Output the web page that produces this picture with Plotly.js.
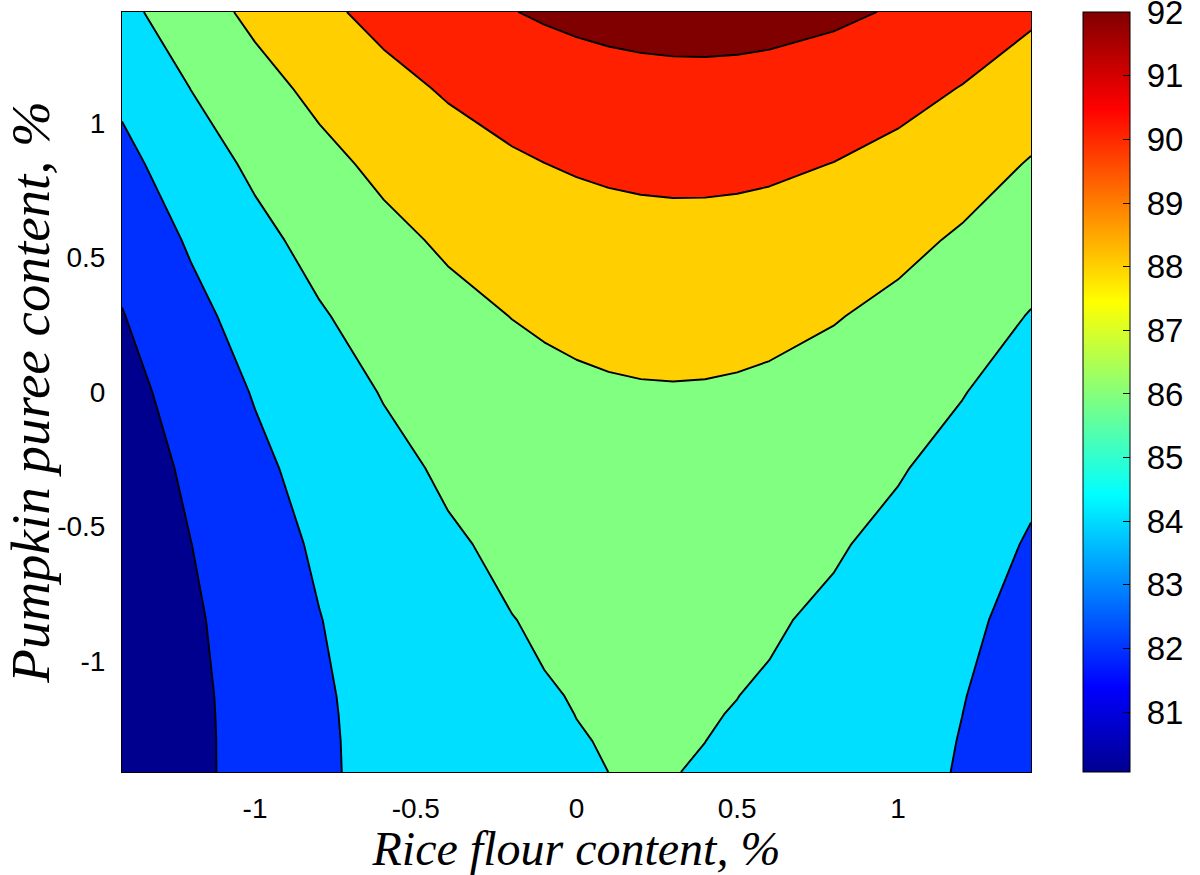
<!DOCTYPE html>
<html>
<head>
<meta charset="utf-8">
<script src="https://cdn.plot.ly/plotly-3.0.1.min.js"></script>
<style>html,body{margin:0;padding:0;background:#fff;}#chart{width:1200px;height:875px;}</style>
</head>
<body>
<div id="chart"></div>
<script>
// Grid coordinates (coded factor levels)
const riceFlour = [-1.414, -1.2, -1.0, -0.8, -0.6, -0.4, -0.2, -0.1, 0, 0.1, 0.2, 0.3, 0.4, 0.5, 0.6, 0.8, 1.0, 1.2, 1.414];
const pumpkinPuree = [-1.414, -1.3, -1.2, -1.131, -0.849, -0.566, -0.283, 0, 0.283, 0.566, 0.849, 1.131, 1.414];

const rowYm1414 = [80.066, 81.529, 82.711, 83.713, 84.536, 85.179, 85.642, 85.807, 85.926, 86.001, 86.030, 86.015, 85.955, 85.850, 85.700, 85.265, 84.651, 83.857, 82.809];
const rowYm1300 = [80.059, 81.529, 82.717, 83.725, 84.553, 85.202, 85.672, 85.839, 85.961, 86.039, 86.071, 86.059, 86.002, 85.900, 85.753, 85.324, 84.716, 83.928, 82.886];
const rowYm1200 = [80.069, 81.544, 82.737, 83.750, 84.584, 85.238, 85.713, 85.883, 86.008, 86.088, 86.123, 86.113, 86.059, 85.959, 85.815, 85.391, 84.788, 84.005, 82.969];
const rowYm1131 = [80.084, 81.563, 82.760, 83.777, 84.614, 85.272, 85.750, 85.921, 86.048, 86.130, 86.167, 86.159, 86.106, 86.009, 85.866, 85.446, 84.847, 84.068, 83.035];
const rowYm0849 = [80.218, 81.713, 82.924, 83.955, 84.807, 85.480, 85.973, 86.152, 86.286, 86.375, 86.419, 86.419, 86.373, 86.283, 86.148, 85.743, 85.158, 84.394, 83.377];
const rowYm0566 = [80.468, 81.979, 83.205, 84.251, 85.118, 85.805, 86.313, 86.499, 86.641, 86.737, 86.789, 86.796, 86.758, 86.675, 86.547, 86.157, 85.587, 84.837, 83.836];
const rowYm0283 = [80.836, 82.362, 83.603, 84.664, 85.546, 86.248, 86.770, 86.964, 87.112, 87.216, 87.276, 87.290, 87.259, 87.183, 87.063, 86.687, 86.132, 85.397, 84.412];
const rowY0000  = [81.320, 82.862, 84.118, 85.193, 86.090, 86.806, 87.343, 87.544, 87.701, 87.812, 87.878, 87.900, 87.877, 87.808, 87.695, 87.334, 86.794, 86.074, 85.104];
const rowYp0283 = [81.921, 83.479, 84.749, 85.839, 86.750, 87.482, 88.033, 88.242, 88.406, 88.524, 88.598, 88.627, 88.611, 88.550, 88.444, 88.098, 87.572, 86.867, 85.913];
const rowYp0566 = [82.638, 84.212, 85.497, 86.602, 87.527, 88.274, 88.840, 89.056, 89.227, 89.353, 89.434, 89.470, 89.462, 89.408, 89.310, 88.978, 88.467, 87.776, 86.838];
const rowYp0849 = [83.472, 85.061, 86.361, 87.481, 88.421, 89.182, 89.763, 89.987, 90.165, 90.298, 90.387, 90.431, 90.429, 90.383, 90.292, 89.975, 89.479, 88.803, 87.881];
const rowYp1131 = [84.418, 86.024, 87.338, 88.473, 89.428, 90.203, 90.799, 91.030, 91.215, 91.356, 91.452, 91.503, 91.509, 91.470, 91.387, 91.085, 90.603, 89.942, 89.035];
const rowYp1414 = [85.485, 87.106, 88.435, 89.584, 90.554, 91.345, 91.955, 92.193, 92.386, 92.534, 92.638, 92.696, 92.710, 92.678, 92.602, 92.314, 91.847, 91.201, 90.310];

// Contour levels and labels
const levelStart = 82, levelEnd = 92, levelStep = 2;
const xTickVals = [-1, -0.5, 0, 0.5, 1];
const xTickText = ['-1', '-0.5', '0', '0.5', '1'];
const yTickVals = [-1, -0.5, 0, 0.5, 1];
const yTickText = ['-1', '-0.5', '0', '0.5', '1'];
const cbTickVals = [81, 82, 83, 84, 85, 86, 87, 88, 89, 90, 91, 92];
const cbTickText = ['81', '82', '83', '84', '85', '86', '87', '88', '89', '90', '91', '92'];
const cbTop = 92;

// Band fill colours (MATLAB jet entries for each filled level)
const bandColors = ['rgb(0,0,143)', 'rgb(0,48,255)', 'rgb(0,223,255)', 'rgb(128,255,128)', 'rgb(255,207,0)', 'rgb(255,32,0)', 'rgb(128,0,0)'];

const zGrid = [rowYm1414, rowYm1300, rowYm1200, rowYm1131, rowYm0849, rowYm0566, rowYm0283, rowY0000, rowYp0283, rowYp0566, rowYp0849, rowYp1131, rowYp1414];

// Step colourscale so each band gets exactly its colour
const n = bandColors.length - 1;
const bandScale = [];
bandColors.forEach((c, k) => {
  const lo = Math.max(0, (k - 0.5) / n), hi = Math.min(1, (k + 0.5) / n);
  bandScale.push([lo, c]);
  bandScale.push([hi, c]);
});

const jet = [
  [0, 'rgb(0,0,143)'],
  [7/63, 'rgb(0,0,255)'],
  [23/63, 'rgb(0,255,255)'],
  [39/63, 'rgb(255,255,0)'],
  [55/63, 'rgb(255,0,0)'],
  [1, 'rgb(128,0,0)']
];

let zMin = Infinity;
zGrid.forEach(r => r.forEach(v => { if (v < zMin) zMin = v; }));

const tickFont = {family: 'Liberation Sans, Arial, sans-serif', size: 28, color: '#000'};
const cbFont = {family: 'Liberation Sans, Arial, sans-serif', size: 33, color: '#000'};
const xTitleFont = {family: 'Liberation Serif, Times New Roman, serif', size: 48, color: '#000', style: 'italic'};
const yTitleFont = {family: 'Liberation Serif, Times New Roman, serif', size: 55, color: '#000', style: 'italic'};

const traces = [
  {
    type: 'heatmap',
    x: riceFlour, y: pumpkinPuree, z: zGrid,
    colorscale: jet, zmin: zMin, zmax: cbTop + 0.003,
    hoverinfo: 'skip',
    showscale: true,
    colorbar: {
      x: 1.0572, xanchor: 'left', xpad: 0,
      y: 0.5, yanchor: 'middle', ypad: 0,
      len: 1, lenmode: 'fraction',
      thickness: 47, thicknessmode: 'pixels',
      outlinewidth: 1, outlinecolor: '#000',
      tickmode: 'array', tickvals: cbTickVals,
      ticktext: cbTickText.map(t => '\u00a0' + t),
      ticks: 'inside', ticklen: 7, tickcolor: '#000', tickwidth: 1,
      ticklabeloverflow: 'allow',
      tickfont: cbFont
    }
  },
  {
    type: 'contour',
    x: riceFlour, y: pumpkinPuree, z: zGrid,
    autocontour: false,
    contours: {start: levelStart, end: levelEnd, size: levelStep, coloring: 'fill', showlines: true},
    colorscale: bandScale,
    showscale: false,
    line: {color: '#000', width: 1.9, smoothing: 0},
    hoverinfo: 'skip'
  }
];

const layout = {
  width: 1200, height: 875,
  margin: {l: 122, r: 169, t: 12, b: 103, autoexpand: false},
  paper_bgcolor: '#fff', plot_bgcolor: '#fff',
  showlegend: false,
  xaxis: {
    range: [-1.414, 1.414], tickmode: 'array', tickvals: xTickVals, ticktext: xTickText,
    showgrid: false, zeroline: false, showline: true, mirror: true, linecolor: '#000', linewidth: 1,
    ticks: '', tickfont: tickFont, ticklabelstandoff: 11,
    title: {text: 'Rice flour content, %', font: xTitleFont, standoff: 12}
  },
  yaxis: {
    range: [-1.414, 1.414], tickmode: 'array', tickvals: yTickVals, ticktext: yTickText,
    showgrid: false, zeroline: false, showline: true, mirror: true, linecolor: '#000', linewidth: 1,
    ticks: '', tickfont: tickFont, ticklabelstandoff: 10,
    title: {text: 'Pumpkin puree content, %', font: yTitleFont, standoff: 2}
  }
};

Plotly.newPlot('chart', traces, layout, {displayModeBar: false, staticPlot: true});
</script>
</body>
</html>
